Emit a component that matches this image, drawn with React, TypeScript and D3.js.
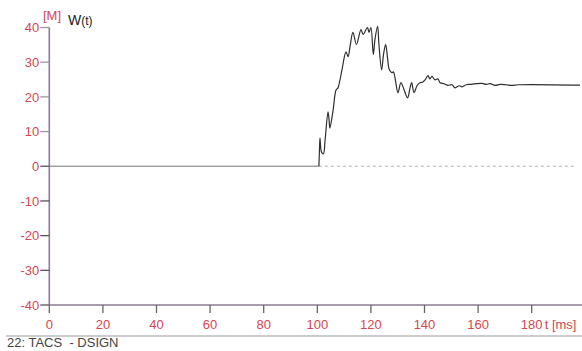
import React from "react";
import * as d3 from "d3";

// Time samples [ms] and the W(t) response [M]
const timeMs: number[] = [
  0, 100.6, 100.8, 101.0, 101.4, 101.8, 102.3, 102.9, 104.0, 104.4, 104.7, 105.9, 107.0, 107.7,
  109.2, 110.7, 111.5, 112.2, 113.3, 114.6, 116.3, 117.1, 118.7, 119.3, 120.0, 120.9, 121.5,
  122.5, 123.0, 124.0, 124.7, 125.5, 126.2, 126.9, 127.8, 128.4, 129.0, 130.1, 131.2, 132.4,
  133.7, 134.6, 135.2, 136.1, 137.2, 138.3, 139.4, 140.2, 141.3, 142.0, 142.8, 143.9, 145.0,
  145.8, 147.3, 148.8, 150.3, 151.4, 152.9, 154.0, 155.5, 157.0, 159.2, 161.5, 163.0, 164.5,
  166.3, 168.2, 170.4, 172.7, 174.9, 198,
];
const wValues: number[] = [
  0, 0, 4.6, 8.1, 4.6, 3.8, 3.6, 7.5, 15.7, 13.3, 11.0, 16.2, 22.0, 22.6,
  27.8, 33.0, 31.6, 34.5, 38.6, 35.1, 39.4, 38.0, 40.0, 38.6, 40.0, 32.2, 36.5,
  40.3, 35.1, 27.8, 32.2, 35.1, 31.3, 27.8, 27.0, 27.2, 25.5, 21.2, 24.1, 22.0,
  19.7, 22.6, 24.1, 21.2, 23.2, 24.1, 24.3, 24.9, 26.1, 25.2, 25.9, 24.9, 25.2,
  24.1, 23.8, 23.3, 23.5, 22.6, 23.2, 22.9, 23.5, 23.6, 23.8, 23.9, 23.6, 23.8,
  23.3, 23.6, 23.5, 23.3, 23.5, 23.4,
];

const xTicks: number[] = [0, 20, 40, 60, 80, 100, 120, 140, 160, 180];
const yTicks: number[] = [40, 30, 20, 10, 0, -10, -20, -30, -40];
const stepTime = 100.6;
const xMax = 198;

const W = 582;
const H = 351;
const FONT = "'Liberation Sans Narrow', 'Liberation Sans', Arial, sans-serif";
const RED = "#d4464f";
const AXIS = "#8b7d95";

export default function App() {
  const x = d3.scaleLinear().domain([0, xMax]).range([49.3, 49.3 + xMax * 2.68]);
  const y = d3.scaleLinear().domain([-40, 40]).range([305, 27.5]);

  const points: [number, number][] = timeMs.map((t, i) => [t, wValues[i]]);
  const flat = points.slice(0, 2);
  const wave = points.slice(1);
  const straight = d3
    .line<[number, number]>()
    .x((d) => x(d[0]))
    .y((d) => y(d[1]));
  const smooth = straight.curve(d3.curveCatmullRom.alpha(0.5));

  const x0 = x(0);
  const yBottom = y(-40);

  return (
    <svg
      width={W}
      height={H}
      style={{ position: "absolute", left: 0, top: 0, background: "#fff" }}
      fontFamily={FONT}
    >
      {/* zero reference: solid before the step, dashed after */}
      <line x1={x0} x2={x(stepTime)} y1={y(0)} y2={y(0)} stroke="#9a9a9a" strokeWidth={1.2} />
      <line
        x1={x(stepTime)}
        x2={x(xMax) - 3}
        y1={y(0)}
        y2={y(0)}
        stroke="#b0b0b0"
        strokeWidth={1.2}
        strokeDasharray="3,3"
      />

      {/* W(t) curve */}
      <path
        d={d3.line<[number, number]>().x((d) => x(d[0])).y((d) => y(d[1]))(flat) ?? ""}
        fill="none"
        stroke="#9a9a9a"
        strokeWidth={1.2}
      />
      <path d={smooth(wave) ?? ""} fill="none" stroke="#2e2e2e" strokeWidth={1.2} strokeLinejoin="round" />

      {/* y axis */}
      <line x1={x0} x2={x0} y1={y(40)} y2={yBottom} stroke={AXIS} strokeWidth={1.6} />
      {yTicks.map((v) => (
        <g key={`y${v}`}>
          <line
            x1={x0 - 9}
            x2={x0}
            y1={y(v)}
            y2={y(v)}
            stroke={v > 0 ? "#9a9a9a" : "#555"}
            strokeWidth={1.3}
          />
          <text x={x0 - 10} y={y(v)} dy="0.36em" textAnchor="end" fontSize={13} fill={RED}>
            {v}
          </text>
        </g>
      ))}

      {/* x axis */}
      <line x1={x0} x2={W} y1={yBottom} y2={yBottom} stroke={AXIS} strokeWidth={1.6} />
      {xTicks.map((t) => (
        <g key={`x${t}`}>
          <line x1={x(t)} x2={x(t)} y1={yBottom} y2={yBottom + 8} stroke="#666" strokeWidth={1.3} />
          <text x={x(t)} y={yBottom + 24} textAnchor="middle" fontSize={13} fill={RED}>
            {t}
          </text>
        </g>
      ))}
      <text x={x(180) + 13} y={yBottom + 24} fontSize={13} fill={RED}>
        t [ms]
      </text>

      {/* unit and signal name */}
      <text x={43} y={20} fontSize={13} fill={RED}>
        [M]
      </text>
      <text x={68} y={25} fontSize={14} fill="#222">
        W<tspan fontSize={12}>(t)</tspan>
      </text>

      {/* footer */}
      <line x1={6} x2={W} y1={336} y2={336} stroke="#9a9a9a" strokeWidth={1.2} />
      <text x={7} y={347} fontSize={13} fill="#444">
        22: TACS{"\u00a0\u00a0"}- DSIGN
      </text>
    </svg>
  );
}
